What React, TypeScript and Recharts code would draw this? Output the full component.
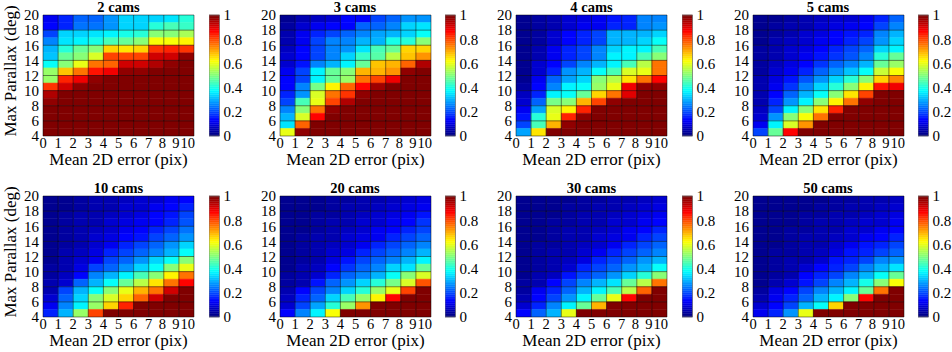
import React from 'react';
import { ComposedChart, XAxis, YAxis, ReferenceArea, ReferenceLine, Label } from 'recharts';

// panel titles, in reading order
const TITLES = ['2 cams', '3 cams', '4 cams', '5 cams', '10 cams', '20 cams', '30 cams', '50 cams'];
const ERR_TICKS = [0, 1, 2, 3, 4, 5, 6, 7, 8, 9, 10];
const PARALLAX_TICKS = [4, 6, 8, 10, 12, 14, 16, 18, 20];
const CBAR_TICKS = [0, 0.2, 0.4, 0.6, 0.8, 1];
// upper edge (deg) of each grid row, top row first
const ROW_TOPS = [20, 19, 18, 17, 16, 15, 14, 13, 12, 11, 10, 9, 8, 7, 6, 5];

// success rate per cell, rows from 19-20 deg down to 4-5 deg, columns 0-1 .. 9-10 pix
const CAMS_2 = [
  [0.12, 0.17, 0.23, 0.22, 0.28, 0.33, 0.33, 0.34, 0.35, 0.42],
  [0.14, 0.17, 0.24, 0.24, 0.28, 0.33, 0.34, 0.42, 0.45, 0.43],
  [0.2, 0.33, 0.34, 0.35, 0.37, 0.4, 0.42, 0.5, 0.51, 0.54],
  [0.26, 0.35, 0.37, 0.4, 0.44, 0.48, 0.5, 0.62, 0.62, 0.63],
  [0.3, 0.42, 0.48, 0.5, 0.66, 0.65, 0.66, 0.82, 0.83, 0.82],
  [0.32, 0.48, 0.5, 0.58, 0.8, 0.8, 0.8, 0.92, 0.92, 0.97],
  [0.38, 0.5, 0.6, 0.75, 0.78, 0.92, 0.92, 0.94, 0.98, 1],
  [0.53, 0.68, 0.75, 0.85, 0.88, 0.97, 0.97, 1, 1, 1],
  [0.52, 0.83, 0.88, 0.98, 1, 1, 1, 1, 1, 1],
  [0.82, 0.91, 0.97, 1, 1, 1, 1, 1, 1, 1],
  [0.94, 1, 1, 1, 1, 1, 1, 1, 1, 1],
  [0.98, 1, 1, 1, 1, 1, 1, 1, 1, 1],
  [1, 1, 1, 1, 1, 1, 1, 1, 1, 1],
  [1, 1, 1, 1, 1, 1, 1, 1, 1, 1],
  [1, 1, 1, 1, 1, 1, 1, 1, 1, 1],
  [1, 1, 1, 1, 1, 1, 1, 1, 1, 1],
];

const CAMS_3 = [
  [0.03, 0.06, 0.07, 0.08, 0.13, 0.14, 0.2, 0.22, 0.28, 0.28],
  [0.04, 0.08, 0.12, 0.13, 0.14, 0.23, 0.22, 0.26, 0.33, 0.35],
  [0.05, 0.11, 0.16, 0.19, 0.22, 0.26, 0.29, 0.3, 0.34, 0.38],
  [0.06, 0.12, 0.19, 0.25, 0.25, 0.31, 0.31, 0.4, 0.42, 0.5],
  [0.07, 0.13, 0.19, 0.25, 0.28, 0.35, 0.45, 0.47, 0.66, 0.66],
  [0.08, 0.14, 0.19, 0.26, 0.34, 0.43, 0.46, 0.55, 0.68, 0.72],
  [0.09, 0.15, 0.25, 0.31, 0.36, 0.47, 0.68, 0.69, 0.78, 0.95],
  [0.11, 0.2, 0.37, 0.47, 0.5, 0.69, 0.69, 0.72, 0.97, 1],
  [0.13, 0.2, 0.36, 0.48, 0.53, 0.76, 0.8, 0.88, 1, 1],
  [0.14, 0.25, 0.49, 0.63, 0.78, 0.87, 0.96, 1, 1, 1],
  [0.17, 0.28, 0.58, 0.75, 0.82, 0.97, 1, 1, 1, 1],
  [0.2, 0.45, 0.6, 0.8, 0.95, 1, 1, 1, 1, 1],
  [0.25, 0.51, 0.76, 0.97, 1, 1, 1, 1, 1, 1],
  [0.3, 0.58, 0.86, 1, 1, 1, 1, 1, 1, 1],
  [0.35, 0.77, 1, 1, 1, 1, 1, 1, 1, 1],
  [0.6, 0.97, 1, 1, 1, 1, 1, 1, 1, 1],
];

const CAMS_4 = [
  [0.03, 0.04, 0.06, 0.08, 0.1, 0.11, 0.15, 0.16, 0.25, 0.25],
  [0.03, 0.04, 0.06, 0.09, 0.11, 0.12, 0.16, 0.17, 0.26, 0.28],
  [0.03, 0.04, 0.09, 0.14, 0.17, 0.19, 0.3, 0.3, 0.31, 0.34],
  [0.03, 0.04, 0.09, 0.14, 0.17, 0.2, 0.3, 0.31, 0.34, 0.38],
  [0.03, 0.05, 0.11, 0.16, 0.2, 0.25, 0.34, 0.36, 0.37, 0.45],
  [0.03, 0.05, 0.12, 0.17, 0.2, 0.26, 0.36, 0.37, 0.45, 0.5],
  [0.03, 0.09, 0.14, 0.19, 0.25, 0.31, 0.37, 0.45, 0.55, 0.76],
  [0.03, 0.09, 0.17, 0.28, 0.31, 0.38, 0.45, 0.58, 0.6, 0.76],
  [0.03, 0.11, 0.22, 0.29, 0.33, 0.5, 0.56, 0.65, 0.76, 0.87],
  [0.04, 0.14, 0.26, 0.36, 0.38, 0.53, 0.6, 0.88, 0.97, 0.97],
  [0.07, 0.17, 0.36, 0.38, 0.47, 0.67, 0.76, 0.9, 1, 1],
  [0.08, 0.23, 0.49, 0.5, 0.7, 0.8, 0.97, 1, 1, 1],
  [0.11, 0.29, 0.59, 0.63, 0.83, 1, 1, 1, 1, 1],
  [0.15, 0.42, 0.6, 0.83, 0.97, 1, 1, 1, 1, 1],
  [0.2, 0.45, 0.7, 0.97, 1, 1, 1, 1, 1, 1],
  [0.29, 0.65, 1, 1, 1, 1, 1, 1, 1, 1],
];

const CAMS_5 = [
  [0.03, 0.03, 0.04, 0.05, 0.07, 0.08, 0.09, 0.11, 0.16, 0.22],
  [0.03, 0.04, 0.05, 0.06, 0.08, 0.1, 0.12, 0.14, 0.2, 0.26],
  [0.03, 0.04, 0.06, 0.08, 0.1, 0.13, 0.15, 0.17, 0.26, 0.3],
  [0.03, 0.05, 0.07, 0.09, 0.12, 0.14, 0.17, 0.2, 0.28, 0.34],
  [0.04, 0.05, 0.08, 0.1, 0.14, 0.16, 0.19, 0.23, 0.34, 0.37],
  [0.04, 0.06, 0.09, 0.12, 0.15, 0.18, 0.21, 0.26, 0.42, 0.47],
  [0.04, 0.07, 0.1, 0.14, 0.18, 0.22, 0.26, 0.31, 0.47, 0.52],
  [0.04, 0.08, 0.12, 0.17, 0.22, 0.27, 0.32, 0.38, 0.57, 0.62],
  [0.05, 0.1, 0.15, 0.21, 0.28, 0.34, 0.42, 0.5, 0.67, 0.74],
  [0.05, 0.11, 0.18, 0.25, 0.33, 0.42, 0.5, 0.63, 0.85, 0.88],
  [0.05, 0.13, 0.23, 0.31, 0.38, 0.51, 0.65, 0.8, 1, 1],
  [0.06, 0.16, 0.28, 0.36, 0.5, 0.64, 0.75, 0.97, 1, 1],
  [0.07, 0.2, 0.37, 0.5, 0.65, 0.84, 1, 1, 1, 1],
  [0.08, 0.28, 0.5, 0.62, 0.76, 1, 1, 1, 1, 1],
  [0.11, 0.37, 0.58, 0.73, 1, 1, 1, 1, 1, 1],
  [0.2, 0.48, 0.86, 1, 1, 1, 1, 1, 1, 1],
];

const CAMS_10 = [
  [0.03, 0.03, 0.04, 0.05, 0.06, 0.07, 0.08, 0.09, 0.11, 0.13],
  [0.03, 0.03, 0.04, 0.05, 0.06, 0.08, 0.09, 0.11, 0.13, 0.17],
  [0.03, 0.04, 0.05, 0.06, 0.07, 0.09, 0.1, 0.13, 0.15, 0.19],
  [0.03, 0.04, 0.05, 0.06, 0.08, 0.1, 0.12, 0.14, 0.17, 0.21],
  [0.03, 0.04, 0.05, 0.07, 0.09, 0.11, 0.13, 0.16, 0.2, 0.24],
  [0.03, 0.04, 0.06, 0.08, 0.1, 0.13, 0.15, 0.19, 0.23, 0.27],
  [0.03, 0.04, 0.06, 0.09, 0.12, 0.16, 0.19, 0.23, 0.28, 0.33],
  [0.03, 0.05, 0.07, 0.1, 0.16, 0.19, 0.23, 0.26, 0.31, 0.38],
  [0.03, 0.05, 0.08, 0.12, 0.2, 0.23, 0.28, 0.33, 0.38, 0.5],
  [0.04, 0.06, 0.1, 0.19, 0.23, 0.28, 0.33, 0.38, 0.5, 0.6],
  [0.04, 0.07, 0.13, 0.26, 0.3, 0.36, 0.45, 0.5, 0.63, 0.75],
  [0.05, 0.09, 0.22, 0.31, 0.38, 0.47, 0.55, 0.65, 0.75, 0.87],
  [0.06, 0.19, 0.3, 0.38, 0.51, 0.6, 0.69, 0.76, 0.91, 1],
  [0.08, 0.22, 0.33, 0.5, 0.58, 0.67, 0.77, 0.92, 1, 1],
  [0.11, 0.25, 0.36, 0.52, 0.67, 0.83, 1, 1, 1, 1],
  [0.17, 0.3, 0.52, 0.8, 1, 1, 1, 1, 1, 1],
];

const CAMS_20 = [
  [0.03, 0.03, 0.03, 0.04, 0.04, 0.05, 0.06, 0.07, 0.08, 0.1],
  [0.03, 0.03, 0.03, 0.04, 0.05, 0.06, 0.07, 0.08, 0.1, 0.12],
  [0.03, 0.03, 0.04, 0.04, 0.05, 0.07, 0.08, 0.1, 0.12, 0.15],
  [0.03, 0.03, 0.04, 0.05, 0.06, 0.08, 0.09, 0.12, 0.14, 0.18],
  [0.03, 0.03, 0.04, 0.05, 0.07, 0.09, 0.11, 0.13, 0.16, 0.2],
  [0.03, 0.04, 0.05, 0.06, 0.08, 0.1, 0.12, 0.16, 0.19, 0.23],
  [0.03, 0.04, 0.05, 0.07, 0.09, 0.12, 0.16, 0.19, 0.23, 0.26],
  [0.03, 0.04, 0.05, 0.08, 0.1, 0.16, 0.19, 0.23, 0.26, 0.3],
  [0.03, 0.04, 0.06, 0.1, 0.15, 0.19, 0.22, 0.26, 0.31, 0.36],
  [0.03, 0.05, 0.07, 0.14, 0.18, 0.22, 0.26, 0.33, 0.35, 0.47],
  [0.04, 0.05, 0.09, 0.16, 0.22, 0.26, 0.3, 0.38, 0.5, 0.58],
  [0.04, 0.06, 0.15, 0.22, 0.28, 0.33, 0.42, 0.49, 0.59, 0.79],
  [0.05, 0.14, 0.19, 0.26, 0.34, 0.42, 0.52, 0.6, 0.8, 1],
  [0.07, 0.16, 0.23, 0.33, 0.45, 0.52, 0.64, 0.86, 1, 1],
  [0.09, 0.19, 0.29, 0.42, 0.52, 0.72, 1, 1, 1, 1],
  [0.13, 0.25, 0.37, 0.62, 1, 1, 1, 1, 1, 1],
];

const CAMS_30 = [
  [0.03, 0.03, 0.03, 0.03, 0.04, 0.04, 0.05, 0.06, 0.07, 0.09],
  [0.03, 0.03, 0.03, 0.04, 0.04, 0.05, 0.06, 0.07, 0.08, 0.1],
  [0.03, 0.03, 0.03, 0.04, 0.05, 0.06, 0.07, 0.08, 0.1, 0.12],
  [0.03, 0.03, 0.04, 0.04, 0.05, 0.06, 0.08, 0.09, 0.11, 0.14],
  [0.03, 0.03, 0.04, 0.05, 0.06, 0.07, 0.09, 0.11, 0.13, 0.16],
  [0.03, 0.03, 0.04, 0.05, 0.06, 0.08, 0.1, 0.12, 0.16, 0.19],
  [0.03, 0.04, 0.04, 0.05, 0.07, 0.09, 0.12, 0.16, 0.19, 0.22],
  [0.03, 0.04, 0.05, 0.06, 0.08, 0.11, 0.16, 0.19, 0.23, 0.26],
  [0.03, 0.04, 0.05, 0.07, 0.1, 0.16, 0.19, 0.23, 0.28, 0.31],
  [0.03, 0.04, 0.06, 0.09, 0.16, 0.19, 0.23, 0.28, 0.31, 0.38],
  [0.03, 0.05, 0.07, 0.15, 0.19, 0.23, 0.28, 0.33, 0.42, 0.5],
  [0.04, 0.05, 0.14, 0.19, 0.25, 0.3, 0.35, 0.47, 0.56, 0.76],
  [0.04, 0.11, 0.17, 0.23, 0.3, 0.37, 0.45, 0.55, 0.78, 1],
  [0.06, 0.14, 0.2, 0.28, 0.36, 0.47, 0.6, 0.87, 1, 1],
  [0.09, 0.17, 0.26, 0.36, 0.47, 0.69, 1, 1, 1, 1],
  [0.14, 0.22, 0.31, 0.6, 1, 1, 1, 1, 1, 1],
];

const CAMS_50 = [
  [0.03, 0.03, 0.03, 0.03, 0.03, 0.04, 0.04, 0.05, 0.06, 0.07],
  [0.03, 0.03, 0.03, 0.03, 0.04, 0.04, 0.05, 0.06, 0.07, 0.08],
  [0.03, 0.03, 0.03, 0.04, 0.04, 0.05, 0.06, 0.07, 0.08, 0.1],
  [0.03, 0.03, 0.03, 0.04, 0.05, 0.05, 0.07, 0.08, 0.09, 0.11],
  [0.03, 0.03, 0.04, 0.04, 0.05, 0.06, 0.08, 0.09, 0.11, 0.14],
  [0.03, 0.03, 0.04, 0.05, 0.06, 0.07, 0.09, 0.11, 0.14, 0.16],
  [0.03, 0.03, 0.04, 0.05, 0.06, 0.08, 0.11, 0.15, 0.17, 0.19],
  [0.03, 0.04, 0.04, 0.05, 0.07, 0.1, 0.15, 0.17, 0.2, 0.23],
  [0.03, 0.04, 0.05, 0.06, 0.09, 0.15, 0.17, 0.2, 0.25, 0.28],
  [0.03, 0.04, 0.05, 0.08, 0.14, 0.16, 0.2, 0.25, 0.3, 0.35],
  [0.03, 0.04, 0.06, 0.13, 0.16, 0.2, 0.25, 0.3, 0.38, 0.47],
  [0.03, 0.05, 0.08, 0.15, 0.2, 0.25, 0.31, 0.4, 0.5, 0.62],
  [0.04, 0.1, 0.14, 0.19, 0.25, 0.31, 0.36, 0.48, 0.75, 1],
  [0.06, 0.11, 0.16, 0.23, 0.3, 0.36, 0.5, 0.87, 1, 1],
  [0.09, 0.13, 0.2, 0.31, 0.39, 0.67, 1, 1, 1, 1],
  [0.11, 0.16, 0.28, 0.6, 1, 1, 1, 1, 1, 1],
];

const PANELS = [CAMS_2, CAMS_3, CAMS_4, CAMS_5, CAMS_10, CAMS_20, CAMS_30, CAMS_50];

// layout
const FONT = '"Liberation Serif", "Times New Roman", serif';
const PLOT_LEFTS = [43, 279.5, 516, 752.5];
const PLOT_TOPS = [15, 195.5];
const PW = 151;
const PH = 121;
const YW = 40; // y axis width
const XH = 34; // x axis height
const PAD = 10; // room above the plot for the top tick label
const CB_GAP = 165.5;
const CBW = 10.5;

// MATLAB jet, 64 levels
const JET_LEVELS = 64;
function jet(v: number) {
  const c = (t: number) => Math.round(255 * Math.max(0, Math.min(1, t)));
  const r = c(1.5 - Math.abs(4 * v - 3));
  const g = c(1.5 - Math.abs(4 * v - 2));
  const b = c(1.5 - Math.abs(4 * v - 1));
  return `rgb(${r},${g},${b})`;
}
const quant = (v: number) => Math.min(JET_LEVELS - 1, Math.floor(v * JET_LEVELS)) / (JET_LEVELS - 1);
const CBAR_BANDS = Array.from({ length: JET_LEVELS }, (_, i) => i);

const tickStyle = { fill: '#000', fontSize: 15, fontFamily: FONT };

function ErrTick(props: any) {
  const { x, y, payload } = props;
  const v = payload.value;
  const last = v === ERR_TICKS[ERR_TICKS.length - 1];
  const shift = last ? 1 : v >= 8 ? -(v - 7) * 1.5 : 0;
  return (
    <text
      x={x + shift}
      y={y}
      dy="0.72em"
      textAnchor={last ? 'end' : 'middle'}
      fill="#000"
      fontSize={14.5}
      fontFamily={FONT}
    >
      {v}
    </text>
  );
}

function Heatmap({ grid, title, left, top, yLabel }: { grid: number[][]; title: string; left: number; top: number; yLabel: boolean }) {
  const cells: { x1: number; x2: number; y1: number; y2: number; v: number }[] = [];
  grid.forEach((row, ri) =>
    row.forEach((v, ci) => {
      cells.push({ x1: ERR_TICKS[ci], x2: ERR_TICKS[ci + 1], y1: ROW_TOPS[ri] - 1, y2: ROW_TOPS[ri], v });
    }),
  );

  return (
    <>
      <div
        style={{
          position: 'absolute',
          left: left + PW / 2,
          top: top - 15,
          transform: 'translateX(-50%)',
          fontFamily: FONT,
          fontWeight: 'bold',
          fontSize: 14.5,
          lineHeight: '15px',
          whiteSpace: 'nowrap',
        }}
      >
        {title}
      </div>
      {yLabel && (
        <div
          style={{
            position: 'absolute',
            left: 11,
            top: top + 56,
            transform: 'translate(-50%, -50%) rotate(-90deg)',
            fontFamily: FONT,
            fontSize: 17,
            lineHeight: '18px',
            whiteSpace: 'nowrap',
          }}
        >
          Max Parallax (deg)
        </div>
      )}
      <div style={{ position: 'absolute', left: left - YW, top: top - PAD }}>
        <ComposedChart width={YW + PW + 6} height={PAD + PH + XH} margin={{ top: PAD, right: 6, bottom: 0, left: 0 }}>
          <XAxis
            type="number"
            dataKey="x"
            domain={[0, 10]}
            ticks={ERR_TICKS}
            interval={0}
            allowDataOverflow
            height={XH}
            axisLine={false}
            tickLine={false}
            tickSize={0}
            tickMargin={2}
            tick={<ErrTick />}
          >
            <Label
              value="Mean 2D error (pix)"
              position="insideBottom"
              offset={5}
              style={{ fill: '#000', fontSize: 17, fontFamily: FONT }}
            />
          </XAxis>
          <YAxis
            type="number"
            dataKey="y"
            domain={[4, 20]}
            ticks={PARALLAX_TICKS}
            interval={0}
            allowDataOverflow
            width={YW}
            axisLine={false}
            tickLine={false}
            tickSize={0}
            tickMargin={4}
            tick={tickStyle}
          />
          {cells.map((c, i) => (
            <ReferenceArea
              key={`c${i}`}
              x1={c.x1}
              x2={c.x2}
              y1={c.y1}
              y2={c.y2}
              fill={jet(quant(c.v))}
              fillOpacity={1}
              stroke={jet(quant(c.v))}
              strokeWidth={0.5}
              ifOverflow="hidden"
            />
          ))}
          {ERR_TICKS.map((x) => (
            <ReferenceLine key={`vx${x}`} x={x} stroke="#000" strokeOpacity={0.6} strokeWidth={0.8} />
          ))}
          {PARALLAX_TICKS.map((y) => (
            <ReferenceLine key={`hy${y}`} y={y} stroke="#000" strokeOpacity={0.6} strokeWidth={0.8} />
          ))}
        </ComposedChart>
      </div>
    </>
  );
}

function Colorbar({ left, top }: { left: number; top: number }) {
  return (
    <div style={{ position: 'absolute', left, top: top - PAD }}>
      <ComposedChart width={CBW + 36} height={PH + 2 * PAD} margin={{ top: PAD, right: 0, bottom: PAD, left: 0 }}>
        <XAxis type="number" dataKey="x" domain={[0, 1]} allowDataOverflow hide />
        <YAxis
          type="number"
          dataKey="y"
          orientation="right"
          domain={[0, 1]}
          ticks={CBAR_TICKS}
          interval={0}
          allowDataOverflow
          width={36}
          axisLine={false}
          tickLine={false}
          tickSize={0}
          tickMargin={4}
          tick={tickStyle}
        />
        {CBAR_BANDS.map((i) => (
          <ReferenceArea
            key={`b${i}`}
            x1={0}
            x2={1}
            y1={i / JET_LEVELS}
            y2={(i + 1) / JET_LEVELS}
            fill={jet(i / (JET_LEVELS - 1))}
            fillOpacity={1}
            stroke={jet(i / (JET_LEVELS - 1))}
            strokeWidth={0.4}
          />
        ))}
        <ReferenceArea x1={0} x2={1} y1={0} y2={1} fill="none" fillOpacity={0} stroke="#777" strokeWidth={0.8} />
      </ComposedChart>
    </div>
  );
}

export default function App() {
  return (
    <div
      style={{
        position: 'absolute',
        left: 0,
        top: 0,
        width: 952,
        height: 352,
        background: '#fff',
        overflow: 'hidden',
      }}
    >
      {PANELS.map((grid, i) => {
        const left = PLOT_LEFTS[i % 4];
        const top = PLOT_TOPS[Math.floor(i / 4)];
        return (
          <React.Fragment key={TITLES[i]}>
            <Heatmap grid={grid} title={TITLES[i]} left={left} top={top} yLabel={i % 4 === 0} />
            <Colorbar left={left + CB_GAP} top={top} />
          </React.Fragment>
        );
      })}
    </div>
  );
}
